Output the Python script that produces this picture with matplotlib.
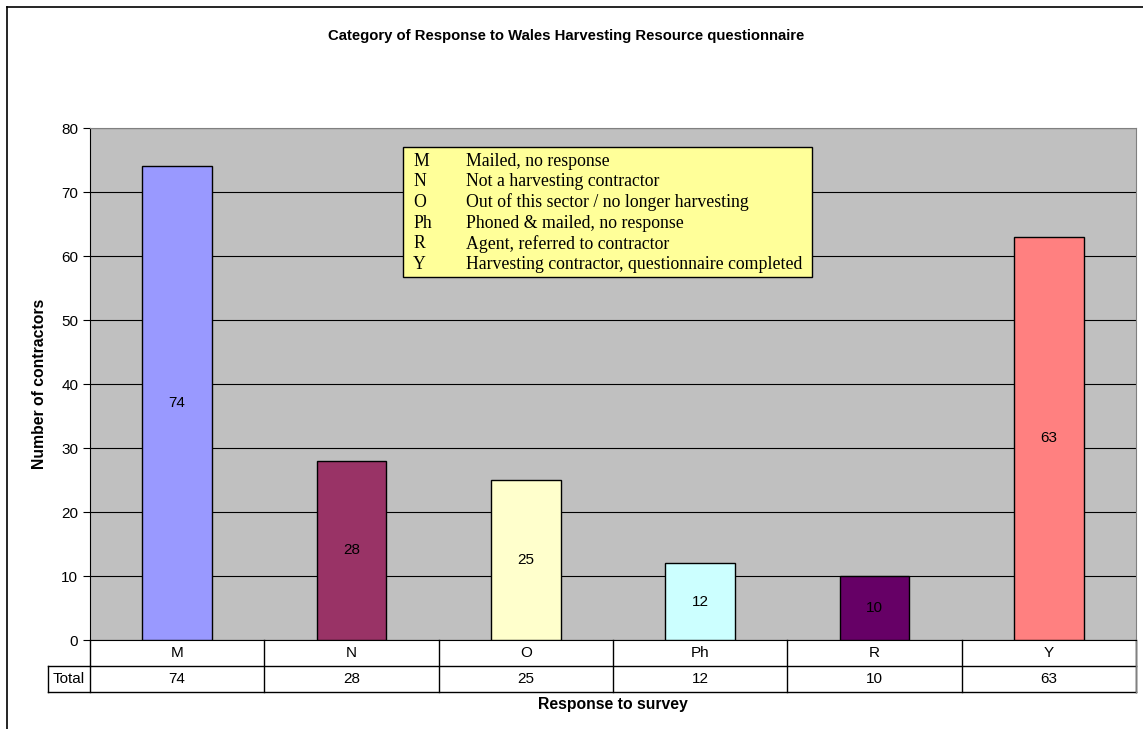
import matplotlib
matplotlib.use("Agg")
import matplotlib.pyplot as plt
import matplotlib.transforms as mtransforms
from matplotlib.patches import Rectangle
import numpy as np

# datos
categorias = ["M", "N", "O", "Ph", "R", "Y"]
valores = [74, 28, 25, 12, 10, 63]
colores = ["#9999FF", "#993366", "#FFFFCC", "#CCFFFF", "#660066", "#FF8080"]
leyenda_cod = ["M", "N", "O", "Ph", "R", "Y"]
leyenda_txt = [
    "Mailed, no response",
    "Not a harvesting contractor",
    "Out of this sector / no longer harvesting",
    "Phoned & mailed, no response",
    "Agent, referred to contractor",
    "Harvesting contractor, questionnaire completed",
]
yticks = [0, 10, 20, 30, 40, 50, 60, 70, 80]

plt.rcParams["font.family"] = ["Liberation Sans", "DejaVu Sans"]

W, H = 1143, 729
fig = plt.figure(figsize=(W / 100, H / 100), dpi=100)

# marco exterior del grafico (solo izquierda y arriba visibles)
fig.add_artist(plt.Line2D([7 / W, 7 / W], [0, 1 - 7 / H], color="black", lw=1.2))
fig.add_artist(plt.Line2D([7 / W, 1], [1 - 7 / H, 1 - 7 / H], color="black", lw=1.2))

left, right, top, bottom = 90, 1136, 128, 640
ax = fig.add_axes([left / W, 1 - bottom / H, (right - left) / W, (bottom - top) / H])
ax.set_facecolor("#C0C0C0")

x = np.arange(len(categorias))
barras = ax.bar(x, valores, width=0.4, color=colores, edgecolor="black", linewidth=1, zorder=3)
for xi, v in zip(x, valores):
    ax.text(xi, v / 2, str(v), ha="center", va="center", fontsize=11, zorder=4)

ax.set_xlim(-0.5, len(categorias) - 0.5)
ax.set_ylim(0, 80)
ax.set_yticks(yticks)
ax.tick_params(axis="y", labelsize=11, length=5, direction="out")
ax.set_xticks([])
ax.grid(axis="y", color="black", linewidth=0.8, zorder=1)
for s in ["top", "right"]:
    ax.spines[s].set_color("#808080")
ax.spines["left"].set_color("black")
ax.spines["bottom"].set_color("black")

# tabla de datos debajo del eje
trans = mtransforms.blended_transform_factory(ax.transData, ax.transAxes)
fila = 26 / (bottom - top)
y1, y2 = -fila, -2 * fila
x_total = -0.5 - 42 / ((right - left) / len(categorias))
kw = dict(transform=trans, color="black", lw=1, clip_on=False)
ax.add_line(plt.Line2D([-0.5, 5.5], [y1, y1], **kw))
ax.add_line(plt.Line2D([x_total, 5.5], [y2, y2], **kw))
ax.add_line(plt.Line2D([x_total, -0.5], [y1, y1], **kw))
ax.add_line(plt.Line2D([x_total, x_total], [y1, y2], **kw))
for b in np.arange(-0.5, 6.0, 1.0):
    ax.add_line(plt.Line2D([b, b], [0, y2], **kw))
ax.add_line(plt.Line2D([5.5, 5.5], [0, y2], transform=trans, color="#808080", lw=1, clip_on=False))
for xi, c, v in zip(x, categorias, valores):
    ax.text(xi, y1 / 2, c, transform=trans, ha="center", va="center", fontsize=11)
    ax.text(xi, (y1 + y2) / 2, str(v), transform=trans, ha="center", va="center", fontsize=11)
ax.text((x_total - 0.5) / 2, (y1 + y2) / 2, "Total", transform=trans, ha="center", va="center", fontsize=11)

ax.set_ylabel("Number of contractors", fontsize=11.3, fontweight="bold", labelpad=10)
fig.text((left + right) / 2 / W, 1 - 705 / H, "Response to survey", ha="center", va="center",
         fontsize=11.3, fontweight="bold")
fig.text(566 / W, 1 - 36 / H, "Category of Response to Wales Harvesting Resource questionnaire",
         ha="center", va="center", fontsize=10.7, fontweight="bold")

# cuadro de leyenda amarillo
bx0, by0, bx1, by1 = 403, 147, 812, 277
fig.add_artist(Rectangle((bx0 / W, 1 - by1 / H), (bx1 - bx0) / W, (by1 - by0) / H,
                         facecolor="#FFFF99", edgecolor="black", lw=1, transform=fig.transFigure, zorder=5))
for i, (cod, txt) in enumerate(zip(leyenda_cod, leyenda_txt)):
    yy = 1 - (161 + i * 20.7) / H
    fig.text(413 / W, yy, cod, ha="left", va="center", fontsize=12.8,
             family=["Liberation Serif", "DejaVu Serif"], zorder=6)
    fig.text(466 / W, yy, txt, ha="left", va="center", fontsize=12.8,
             family=["Liberation Serif", "DejaVu Serif"], zorder=6)

fig.savefig("out.png", dpi=100)
